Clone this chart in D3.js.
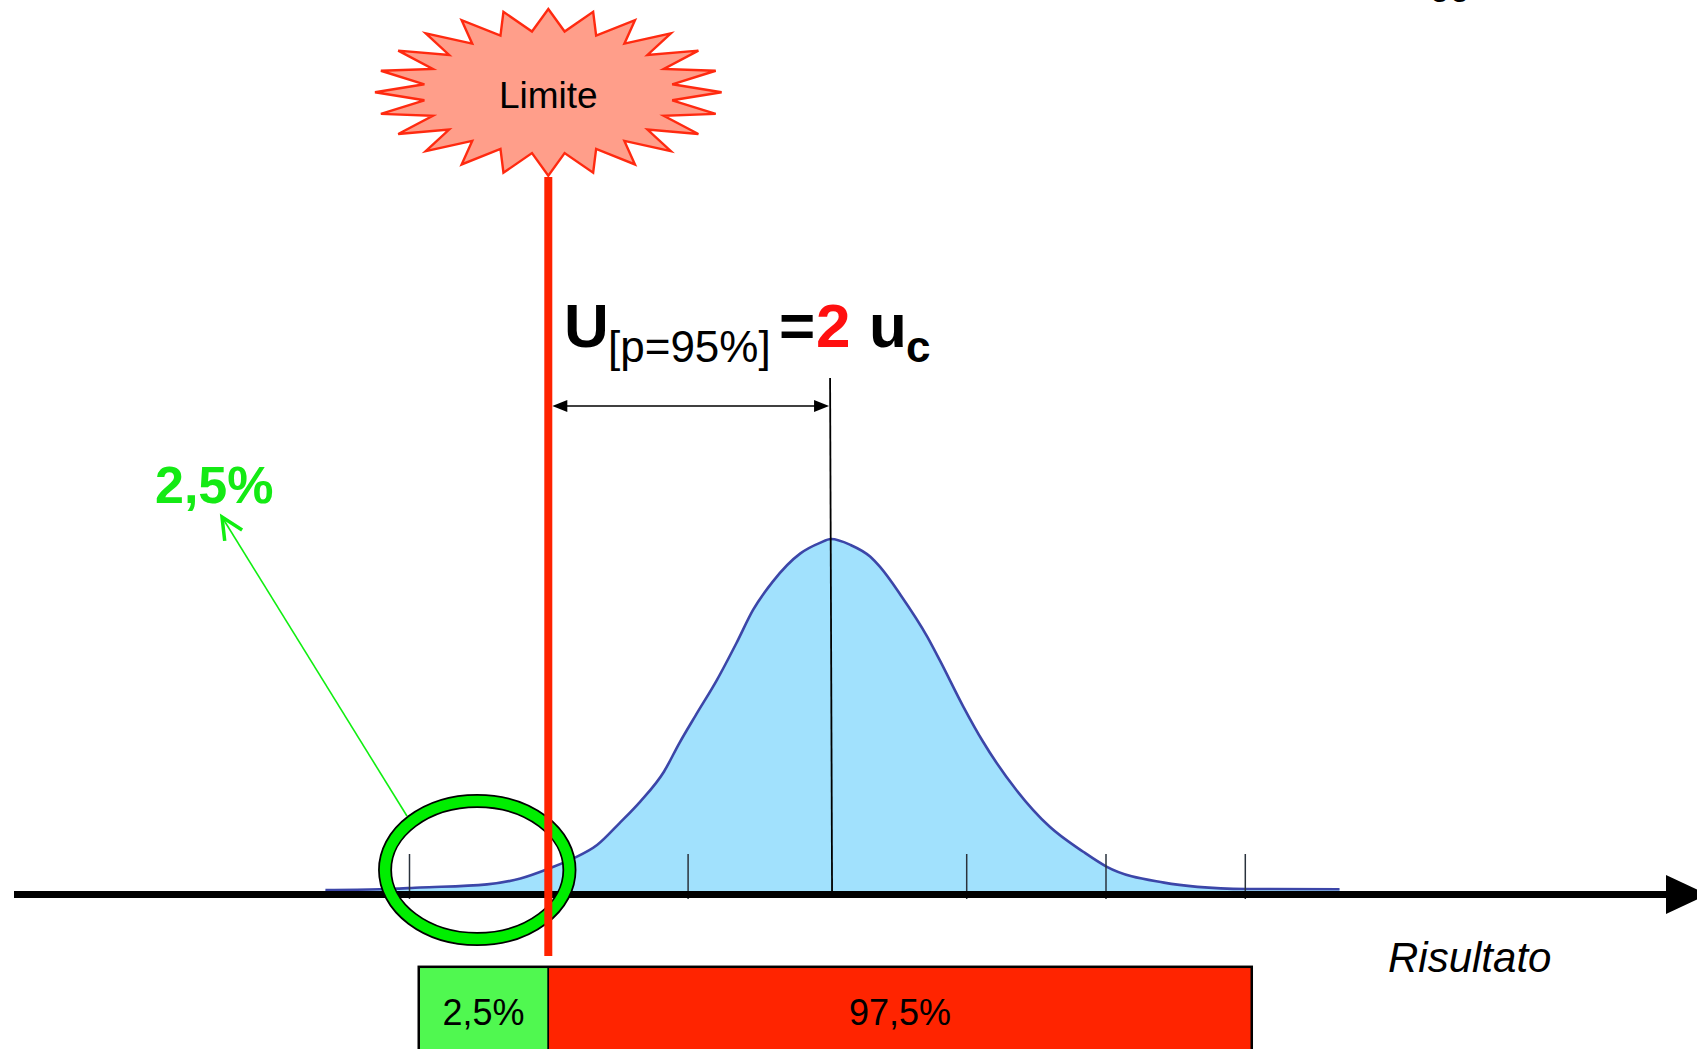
<!DOCTYPE html>
<html>
<head>
<meta charset="utf-8">
<script src="https://cdn.jsdelivr.net/npm/d3@7"></script>
<style>
  html, body { margin: 0; padding: 0; background: #fff; overflow: hidden; }
  svg { display: block; font-family: "Liberation Sans", Arial, Helvetica, sans-serif; }
</style>
</head>
<body>
<svg id="chart" width="1697" height="1049"></svg>
<script>
// Result axis expressed in multiples of the combined standard uncertainty u_c
// (0 = mean result). Density is relative, peak = 100.
const curveX = [-3.60, -3.21, -2.92, -2.44, -2.20, -1.99, -1.82, -1.65, -1.49, -1.34,
                -1.17, -1.06, -0.94, -0.79, -0.65, -0.53, -0.39, -0.19, -0.05, 0.03,
                 0.17,  0.31,  0.38,  0.53,  0.72,  0.81,  0.98,  1.12,  1.36,  1.60,
                 1.84,  2.01,  2.42,  2.66,  3.01,  3.68];
const curveY = [0.0, 0.2, 0.7, 1.6, 3.3, 6.2, 9.0, 12.8, 19.0, 25.2,
                33.7, 41.8, 49.9, 59.8, 70.3, 79.8, 87.8, 95.9, 98.9, 100,
                98.3, 95.0, 92.1, 84.0, 72.2, 65.5, 52.2, 42.3, 28.5, 18.0,
                10.9, 6.6, 2.1, 0.9, 0.3, 0.2];
const tickValues = [-3, -1, 1, 2, 3];
const limitValue = -2;          // limit sits 2 u_c below the mean
const centreValue = 0.03;       // mean result marker
const tailValue = -2.51;        // centre of the highlighted tail
const bandLabels = ["2,5%", "97,5%"];
const bandBounds = [-2.93, -2, 3.05];

const svg = d3.select("#chart");
const x = d3.scaleLinear().domain([-3, 3]).range([409, 1244.8]);
const y = d3.scaleLinear().domain([0, 100]).range([890, 539]);
const idx = d3.range(curveX.length);

// ---- distribution ----
svg.append("path")
  .attr("d", d3.area()
    .x(i => x(curveX[i])).y0(y(0) + 1).y1(i => y(curveY[i]))
    .curve(d3.curveMonotoneX)(idx))
  .attr("fill", "#a1e1fd");
svg.append("path")
  .attr("d", d3.line()
    .x(i => x(curveX[i])).y(i => y(curveY[i]))
    .curve(d3.curveMonotoneX)(idx))
  .attr("fill", "none").attr("stroke", "#3c46a8").attr("stroke-width", 2.6);

// ---- ticks ----
const tickG = svg.append("g").attr("transform", "translate(0,899)")
  .call(d3.axisTop(x).tickValues(tickValues).tickSize(45).tickFormat(""));
tickG.select(".domain").remove();
tickG.selectAll(".tick line").attr("stroke", "#2a323c").attr("stroke-width", 1.5);

// ---- result axis with arrow (tip runs past the right edge) ----
svg.append("line").attr("x1", 14).attr("x2", 1668).attr("y1", 894.5).attr("y2", 894.5)
  .attr("stroke", "#000").attr("stroke-width", 7);
svg.append("path").attr("d", "M1666,875L1708,894.5L1666,914Z").attr("fill", "#000");
svg.append("text").attr("x", 1388).attr("y", 972)
  .attr("font-size", 42).attr("font-style", "italic").attr("fill", "#000")
  .text("Risultato");

// ---- mean marker ----
const xc = x(centreValue);
svg.append("line").attr("x1", xc - 1).attr("y1", 378).attr("x2", xc + 1).attr("y2", 894)
  .attr("stroke", "#000").attr("stroke-width", 1.8);

// ---- 2 u_c span arrow ----
const xl = x(limitValue);
const ax1 = xl + 4, ax2 = xc - 2, ay = 406;
svg.append("line").attr("x1", ax1 + 10).attr("x2", ax2 - 10).attr("y1", ay).attr("y2", ay)
  .attr("stroke", "#000").attr("stroke-width", 1.6);
svg.append("path").attr("d", `M${ax1},${ay}L${ax1 + 15},${ay - 6}L${ax1 + 15},${ay + 6}Z`).attr("fill", "#000");
svg.append("path").attr("d", `M${ax2},${ay}L${ax2 - 15},${ay - 6}L${ax2 - 15},${ay + 6}Z`).attr("fill", "#000");

// ---- highlighted tail ring ----
const rc = { x: x(tailValue), y: 870, rx: 92.2, ry: 69 };
svg.append("ellipse").attr("cx", rc.x).attr("cy", rc.y).attr("rx", rc.rx).attr("ry", rc.ry)
  .attr("fill", "none").attr("stroke", "#000").attr("stroke-width", 14);
svg.append("ellipse").attr("cx", rc.x).attr("cy", rc.y).attr("rx", rc.rx).attr("ry", rc.ry)
  .attr("fill", "none").attr("stroke", "#00ee00").attr("stroke-width", 10.5);

// pointer from ring to the tail percentage
const ang = Math.PI * 1.25;
const tail = [rc.x + (rc.rx + 7) * Math.cos(ang), rc.y + (rc.ry + 7) * Math.sin(ang)];
const tip = [222, 517];
svg.append("line").attr("x1", tail[0]).attr("y1", tail[1]).attr("x2", tip[0]).attr("y2", tip[1])
  .attr("stroke", "#11ee11").attr("stroke-width", 1.6);
const dir = Math.atan2(tail[1] - tip[1], tail[0] - tip[0]);
const headLen = 24, headSpread = 0.44;
svg.append("path")
  .attr("d", `M${tip[0] + headLen * Math.cos(dir - headSpread)},${tip[1] + headLen * Math.sin(dir - headSpread)}` +
             `L${tip[0]},${tip[1]}` +
             `L${tip[0] + headLen * Math.cos(dir + headSpread)},${tip[1] + headLen * Math.sin(dir + headSpread)}`)
  .attr("fill", "none").attr("stroke", "#11ee11").attr("stroke-width", 3.5)
  .attr("stroke-linejoin", "miter").attr("stroke-linecap", "butt");
svg.append("text").attr("x", 155).attr("y", 503)
  .attr("font-size", 52).attr("font-weight", "bold").attr("fill", "#14ea14")
  .text(bandLabels[0]);

// ---- limit line ----
svg.append("line").attr("x1", xl).attr("x2", xl).attr("y1", 177).attr("y2", 956)
  .attr("stroke", "#ff2200").attr("stroke-width", 8);

// ---- "Limite" burst ----
const star = { cx: xl, cy: 92.3, orx: 173.3, ory: 83.3, irx: 125, iry: 61.3, n: 24 };
const starPts = [];
for (let k = 0; k < star.n * 2; k++) {
  const t = k * Math.PI / star.n;
  const outer = k % 2 === 0;
  starPts.push([star.cx + (outer ? star.orx : star.irx) * Math.sin(t),
                star.cy - (outer ? star.ory : star.iry) * Math.cos(t)]);
}
svg.append("path").attr("d", "M" + starPts.map(p => p.join(",")).join("L") + "Z")
  .attr("fill", "#ff9e8a").attr("stroke", "#ff2a10").attr("stroke-width", 2.4)
  .attr("stroke-linejoin", "miter");
svg.append("text").attr("x", xl).attr("y", 108.3).attr("text-anchor", "middle")
  .attr("font-size", 37).attr("fill", "#000").text("Limite");

// ---- expanded uncertainty formula ----
const f = svg.append("g").attr("fill", "#000");
f.append("text").attr("x", 564).attr("y", 347).attr("font-size", 62).attr("font-weight", "bold").text("U");
f.append("text").attr("x", 608).attr("y", 362).attr("font-size", 44).text("[p=95%]");
f.append("text").attr("x", 779).attr("y", 347).attr("font-size", 62).attr("font-weight", "bold").text("=");
f.append("text").attr("x", 816).attr("y", 347).attr("font-size", 62).attr("font-weight", "bold")
  .attr("fill", "#ff1010").text("2");
f.append("text").attr("x", 869).attr("y", 347).attr("font-size", 62).attr("font-weight", "bold").text("u");
f.append("text").attr("x", 906).attr("y", 362).attr("font-size", 44).attr("font-weight", "bold").text("c");

// ---- probability band ----
const bandColors = ["#50f850", "#ff2400"];
const bandTop = 966.8;
const band = svg.append("g");
bandLabels.forEach((lab, i) => {
  const x0 = x(bandBounds[i]), x1 = x(bandBounds[i + 1]);
  band.append("rect").attr("x", x0).attr("y", bandTop).attr("width", x1 - x0).attr("height", 120)
    .attr("fill", bandColors[i]).attr("stroke", "#000").attr("stroke-width", 1.5);
  band.append("text").attr("x", (x0 + x1) / 2).attr("y", 1025).attr("text-anchor", "middle")
    .attr("font-size", 36).attr("fill", "#000").text(lab);
});
band.append("rect").attr("x", x(bandBounds[0])).attr("y", bandTop)
  .attr("width", x(bandBounds[2]) - x(bandBounds[0])).attr("height", 120)
  .attr("fill", "none").attr("stroke", "#000").attr("stroke-width", 2.5);

// running header text, mostly above the page edge
svg.append("text").attr("x", 1430).attr("y", -6).attr("font-size", 36).attr("fill", "#000").text("gg");
</script>
</body>
</html>
